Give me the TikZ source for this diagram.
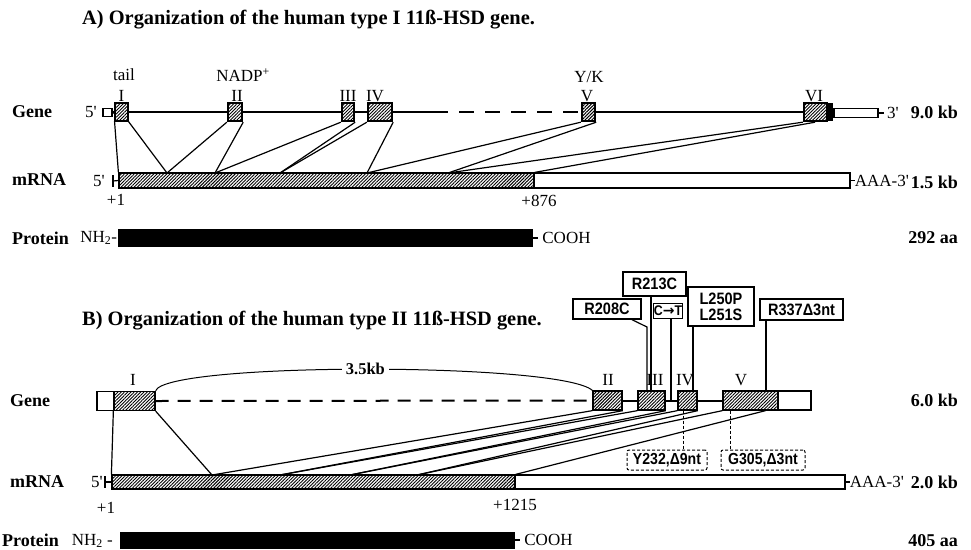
\documentclass[tikz,border=0pt]{standalone}
\usepackage{fontspec}
\setmainfont{Liberation Serif}
\newfontfamily\mutfont[FakeStretch=0.88]{Liberation Sans}
\newfontfamily\arrfont{DejaVu Sans}
\newcommand{\pq}{\textquotesingle}
\usetikzlibrary{patterns.meta,calc}
\tikzset{
  lbl/.style={font=\fontsize{17}{19}\selectfont, inner sep=0pt},
  blbl/.style={font=\fontsize{18}{20}\selectfont\bfseries, inner sep=0pt},
  rlbl/.style={font=\fontsize{18}{20}\selectfont\bfseries, inner sep=0pt, anchor=east},
  ttl/.style={font=\fontsize{20.4}{23}\selectfont\bfseries, inner sep=0pt, anchor=west},
  hatch/.style={pattern={Lines[angle=45,distance=2.3pt,line width=0.9pt]}},
  exA/.style={draw, line width=2.4pt, preaction={fill=white}, hatch, inner sep=0pt, minimum height=18pt},
  utr/.style={draw, line width=1.4pt, fill=white, inner sep=0pt},
  exB/.style={draw, line width=1.3pt, preaction={fill=white}, hatch, inner sep=0pt, minimum height=19pt},
  geneline/.style={line width=2.6pt},
  dashline/.style={line width=2.6pt, dash pattern=on 15pt off 11pt},
  exlink/.style={line width=1.2pt},
  mrnaC/.style={draw, line width=1.2pt, preaction={fill=white}, hatch, inner sep=0pt},
  mrnaU/.style={draw, line width=1.2pt, fill=white, inner sep=0pt},
  prot/.style={fill=black, inner sep=0pt},
  mut/.style={draw, line width=1.4pt, fill=white, inner sep=1pt, font=\mutfont\bfseries\fontsize{16.5}{16}\selectfont},
  mutd/.style={draw, line width=1pt, dash pattern=on 3pt off 2pt, rounded corners=2pt, fill=white, inner sep=1pt, font=\mutfont\bfseries\fontsize{16}{16}\selectfont},
  mline/.style={line width=1.2pt},
  mlined/.style={line width=1pt, dash pattern=on 3pt off 2pt},
}
\begin{document}
\begin{tikzpicture}[x=1pt,y=-1pt]
\useasboundingbox (0,0) rectangle (971,549);

% ---------------- A ----------------
\node[ttl] (titleA) at (82,20) {A) Organization of the human type I 11ß-HSD gene.};

% gene A
\node[utr, minimum width=9pt, minimum height=8pt] (uA5) at (107.5,112.5) {};
\node[exA, minimum width=13pt] (eA1) at (121.5,112) {};
\node[exA, minimum width=14pt] (eA2) at (235,112) {};
\node[exA, minimum width=12pt] (eA3) at (348,112) {};
\node[exA, minimum width=24pt] (eA4) at (380,112) {};
\node[exA, minimum width=13pt] (eA5) at (588.5,112) {};
\node[exA, minimum width=23pt] (eA6) at (815.5,112) {};
\node[prot, minimum width=6pt, minimum height=18pt] (bA6) at (830,112) {};
\node[utr, minimum width=44pt, minimum height=9pt] (uA3) at (856,113) {};
\coordinate (dA) at (433,112);
\coordinate (tA3) at (884,113);
\draw[geneline] (uA5.east) -- (eA1.west);
\draw[geneline] (eA1.east) -- (eA2.west);
\draw[geneline] (eA2.east) -- (eA3.west);
\draw[geneline] (eA3.east) -- (eA4.west);
\draw[geneline] (eA4.east) -- (dA);
\draw[dashline] (dA) -- (eA5.west);
\draw[geneline] (eA5.east) -- (eA6.west);
\draw[line width=1.4pt] (uA3.east) -- (tA3);

\node[lbl] (g5A) at (91,112) {5\pq};
\node[lbl, anchor=west] (g3A) at (887,113) {3\pq};
\node[blbl, anchor=west] (geneA) at (12,112) {Gene};
\node[rlbl] (kbA) at (958,112) {9.0 kb};

\node[lbl] (nA1) at (121.5,96) {I};
\node[lbl] (nA2) at (237,96) {II};
\node[lbl] (nA3) at (348,96) {III};
\node[lbl] (nA4) at (375,96) {IV};
\node[lbl] (nA5) at (587,96) {V};
\node[lbl] (nA6) at (814,96) {VI};
\node[lbl] (tail) at (124,75) {tail};
\node[lbl] (nadp) at (243,75) {NADP\textsuperscript{+}};
\node[lbl] (yk) at (589,77) {Y/K};

% mRNA A
\node[mrnaC, minimum width=415pt, minimum height=15pt] (mAc) at (326.5,180.5) {};
\node[mrnaU, minimum width=316pt, minimum height=15pt] (mAu) at (692,180.5) {};
\coordinate (barA) at (113,181);
\draw[exlink] (113,175) -- (113,187);
\draw[exlink] (barA) -- (mAc.west);
\node[lbl] (m5A) at (99,181) {5\pq};
\draw[exlink] (mAu.east) -- ++(4,0) coordinate (aA);
\node[lbl, anchor=west] (aaaA) at (aA) {AAA-3\pq};
\node[blbl, anchor=west] (mrnaA) at (12,180) {mRNA};
\node[rlbl] (kbmA) at (958,182) {1.5 kb};
\node[lbl] (p1A) at (116,200) {+1};
\node[lbl] (p876) at (539,201) {+876};

\coordinate (ja1) at (167,173);
\coordinate (ja2) at (215,173);
\coordinate (ja3) at (280,173);
\coordinate (ja4) at (367,173);
\coordinate (ja5) at (448,173);
\draw[exlink] (eA1.south west) -- (mAc.north west);
\draw[exlink] (eA1.south east) -- (ja1);
\draw[exlink] (eA2.south west) -- (ja1);
\draw[exlink] (eA2.south east) -- (ja2);
\draw[exlink] (eA3.south west) -- (ja2);
\draw[exlink] (eA3.south east) -- (ja3);
\draw[exlink] (eA4.south west) -- (ja3);
\draw[exlink] (eA4.south east) -- (ja4);
\draw[exlink] (eA5.south west) -- (ja4);
\draw[exlink] (eA5.south east) -- (ja5);
\draw[exlink] (eA6.south west) -- (ja5);
\draw[exlink] ([xshift=-0.5pt]eA6.south) -- (mAc.north east);

% protein A
\node[prot, minimum width=415pt, minimum height=18pt] (pA) at (325.5,238) {};
\node[lbl, anchor=east] (nhA) at ([xshift=-0.5pt]pA.west) {NH\textsubscript{2}-};
\draw[exlink] (pA.east) -- ++(5,0) coordinate (cA);
\node[lbl, anchor=west] (coohA) at ([xshift=4pt]cA) {COOH};
\node[blbl, anchor=west] (protA) at (12,238) {Protein};
\node[rlbl] (aaA) at (958,238) {292 aa};

% ---------------- B ----------------
\node[ttl] (titleB) at (82,321) {B) Organization of the human type II 11ß-HSD gene.};

% gene B
\node[utr, line width=1.3pt, minimum width=17pt, minimum height=19pt] (uB5) at (105.5,401) {};
\node[exB, minimum width=41pt] (eB1) at (134.5,401) {};
\node[exB, minimum width=29pt] (eB2) at (607.5,400.5) {};
\node[exB, minimum width=27pt] (eB3) at (651.5,400.5) {};
\node[exB, minimum width=19pt] (eB4) at (687.5,400.5) {};
\node[exB, minimum width=55pt] (eB5) at (750.5,400.5) {};
\node[utr, line width=1.3pt, minimum width=33pt, minimum height=19pt] (uB3) at (794.5,400.5) {};
\draw[line width=2pt, dash pattern=on 13pt off 9pt] (eB1.east) -- (eB2.west);
\draw[line width=2pt] (eB2.east) -- (eB3.west);
\draw[line width=2pt] (eB3.east) -- (eB4.west);
\draw[line width=2pt] (eB4.east) -- (eB5.west);

\node[lbl] (nB1) at (133,380) {I};
\node[lbl] (nB2) at (608,380) {II};
\node[lbl] (nB3) at (655,380) {III};
\node[lbl] (nB4) at (685,380) {IV};
\node[lbl] (nB5) at (741,380) {V};
\node[blbl, anchor=west] (geneB) at (10,401) {Gene};
\node[rlbl] (kbB) at (958,400) {6.0 kb};

\draw[line width=1pt] (eB1.north east) .. controls (165,362) and (560,362) .. (eB2.north west)
  node[pos=0.5, fill=white, inner sep=4pt, font=\fontsize{16.5}{18}\selectfont\bfseries] (kb35) {3.5kb};

% mutations
\node[mut, minimum width=63pt, minimum height=24pt] (r213) at (654.5,284) {R213C};
\node[mut, minimum width=68pt, minimum height=20pt] (r208) at (607,309) {R208C};
\node[mut, minimum width=29pt, minimum height=15pt, inner sep=0.5pt, font=\mutfont\bfseries\fontsize{14}{14}\selectfont] (ct) at (668,311) {C{\arrfont\bfseries →}T};
\node[mut, minimum width=66pt, minimum height=39pt, align=center] (l250) at (721,306.5) {L250P\\L251S};
\node[mut, minimum width=83pt, minimum height=21pt] (r337) at (801.5,309.5) {R337Δ3nt};
\node[mutd, minimum width=80pt, minimum height=20pt] (y232) at (667,460) {Y232,Δ9nt};
\node[mutd, minimum width=84pt, minimum height=20pt] (g305) at (763,460) {G305,Δ3nt};

\coordinate (k208) at (647,327);
\coordinate (gB) at (0,401);
\draw[mline] ([xshift=25pt]r208.south) -- (k208) -- (k208 |- eB3.north);
\draw[mline] ([xshift=-3.5pt]r213.south) -- ([xshift=-3.5pt]r213.south |- eB3.north);
\draw[mline] ([xshift=3pt]ct.south) -- ([xshift=3pt]ct.south |- gB);
\draw[mline] ([xshift=-28pt]l250.south) -- ([xshift=-28pt]l250.south |- eB4.north);
\draw[mline] ([xshift=-35.5pt]r337.south) -- ([xshift=-35.5pt]r337.south |- eB5.north);
\draw[mlined] ([xshift=-4.5pt]eB4.south) -- ([xshift=-4.5pt]eB4.south |- y232.north);
\draw[mlined] ([xshift=-20.5pt]eB5.south) -- ([xshift=-20.5pt]eB5.south |- g305.north);

% mRNA B
\node[mrnaC, minimum width=403pt, minimum height=14pt] (mBc) at (313.5,482) {};
\node[mrnaU, minimum width=330pt, minimum height=14pt] (mBu) at (680,482) {};
\coordinate (barB) at (105,482);
\draw[exlink] (105,476) -- (105,488);
\draw[exlink] (barB) -- (mBc.west);
\node[lbl] (m5B) at (97,482) {5\pq};
\draw[exlink] (mBu.east) -- ++(4,0) coordinate (aB);
\node[lbl, anchor=west] (aaaB) at (aB) {AAA-3\pq};
\node[blbl, anchor=west] (mrnaB) at (10,482) {mRNA};
\node[rlbl] (kbmB) at (958,482) {2.0 kb};
\node[lbl] (p1B) at (106,508) {+1};
\node[lbl] (p1215) at (515,505) {+1215};

\coordinate (jb1) at (212,475);
\coordinate (jb2) at (280,475);
\coordinate (jb3) at (350,475);
\coordinate (jb4) at (417,475);
\draw[exlink] (eB1.south west) -- (mBc.north west);
\draw[exlink] (eB1.south east) -- (jb1);
\draw[exlink] (eB2.south west) -- (jb1);
\draw[exlink] (eB2.south east) -- (jb2);
\draw[exlink] (eB3.south west) -- (jb2);
\draw[exlink] (eB3.south east) -- (jb3);
\draw[exlink] (eB4.south west) -- (jb3);
\draw[exlink] (eB4.south east) -- (jb4);
\draw[exlink] (eB5.south west) -- (jb4);
\draw[exlink] ([xshift=15pt]eB5.south) -- (mBc.north east);

% protein B
\node[prot, minimum width=395pt, minimum height=17pt] (pB) at (317.5,540) {};
\node[lbl, anchor=east] (nhB) at (113,541) {NH\textsubscript{2} -};
\draw[exlink] (pB.east) -- ++(5,0) coordinate (cB);
\node[lbl, anchor=west] (coohB) at ([xshift=4pt]cB) {COOH};
\node[blbl, anchor=west] (protB) at (2,540) {Protein};
\node[rlbl] (aaB) at (958,541) {405 aa};
\end{tikzpicture}
\end{document}
